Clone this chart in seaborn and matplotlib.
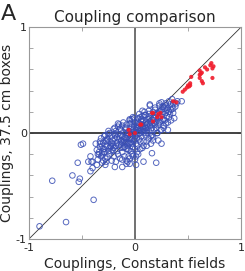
import numpy as np
import pandas as pd
import matplotlib
matplotlib.use("Agg")
import matplotlib.pyplot as plt
import seaborn as sns

# blue: all couplings (open circles)
blue_x = [
    -0.90, -0.65, -0.39, -0.78, -0.59, -0.52, -0.53, -0.54, -0.51, -0.49,
    -0.42, -0.44, -0.41, -0.40, -0.42, -0.40, -0.36, -0.30, -0.22, -0.20,
    -0.24, -0.16, -0.05, 0.14, 0.44, 0.39, 0.35, 0.36, 0.32, 0.26,
    0.14, 0.27, 0.31, 0.22, 0.25, 0.16, 0.08, 0.20, -0.05, 0.01,
    -0.12, -0.19, -0.08, -0.12, -0.34, -0.31, -0.28, -0.26, -0.33, -0.29,
    -0.02, 0.01, 0.03, -0.04, 0.05, -0.06, 0.02, -0.01, 0.07, -0.08,
    0.04, -0.03, 0.09, -0.10, 0.06, -0.05, 0.11, -0.12, 0.00, 0.08,
    -0.09, 0.12, -0.07, 0.03, 0.10, -0.13, 0.14, -0.02, 0.05, -0.11,
    0.13, -0.15, 0.16, -0.04, 0.01, -0.14, 0.15, -0.06, 0.07, -0.16,
    0.18, -0.18, 0.02, -0.01, 0.04, -0.03, 0.06, -0.05, 0.08, -0.07,
    0.10, -0.09, 0.12, -0.11, 0.00, 0.09, -0.08, 0.11, -0.10, 0.14,
    -0.12, 0.17, -0.13, 0.19, -0.17, 0.20, -0.19, 0.21, -0.20, 0.22,
    -0.21, 0.23, -0.22, 0.24, -0.23, 0.25, -0.24, 0.26, -0.25, 0.27,
    -0.26, 0.28, -0.27, 0.29, -0.28, 0.30, -0.29, 0.31, -0.30, 0.32,
    -0.31, 0.33, -0.32, 0.34, -0.33, 0.36, -0.35, 0.38, -0.37, 0.40,
    0.02, -0.03, 0.05, -0.06, 0.08, 0.04, -0.02, 0.07, -0.05, 0.10,
    -0.08, 0.13, 0.16, 0.18, 0.20, 0.17, -0.14, -0.16, -0.12, -0.18,
    -0.01, 0.03, -0.04, 0.06, -0.07, 0.09, -0.10, 0.12, -0.13, 0.15,
    0.00, 0.02, -0.02, 0.04, -0.04, 0.06, -0.06, 0.08, -0.08, 0.10,
    0.19, 0.23, 0.26, 0.29, 0.21, 0.24, -0.21, -0.24, -0.27, -0.19,
    -0.35, -0.34, -0.36, -0.32, -0.31, -0.33, -0.30, -0.29, -0.31, -0.28,
    -0.27, -0.29, -0.26, -0.25, -0.27, -0.24, -0.23, -0.25, -0.22, -0.21,
    -0.23, -0.20, -0.19, -0.21, -0.18, -0.17, -0.19, -0.16, -0.15, -0.17,
    -0.14, -0.13, -0.15, -0.12, -0.11, -0.13, -0.10, -0.09, -0.11, -0.08,
    -0.07, -0.09, -0.06, -0.05, -0.07, -0.04, -0.03, -0.05, -0.02, -0.01,
    -0.03, 0.00, 0.01, -0.01, 0.00, 0.02, 0.03, 0.01, 0.04, 0.05,
    0.03, 0.06, 0.07, 0.05, 0.08, 0.09, 0.07, 0.10, 0.11, 0.09,
    0.12, 0.13, 0.11, 0.14, 0.15, 0.13, 0.16, 0.17, 0.15, 0.18,
    0.19, 0.17, 0.20, 0.21, 0.19, 0.22, 0.23, 0.21, 0.24, 0.25,
    0.23, 0.26, 0.27, 0.25, 0.28, 0.29, 0.27, 0.30, 0.31, 0.29,
    0.33, 0.34, 0.32, 0.36, 0.37, 0.35,
]
blue_y = [
    -0.88, -0.84, -0.63, -0.45, -0.40, -0.43, -0.46, -0.28, -0.11, -0.10,
    -0.22, -0.27, -0.27, -0.27, -0.36, -0.33, -0.16, -0.15, -0.10, 0.04,
    0.00, 0.09, 0.13, 0.27, 0.30, 0.28, 0.25, 0.19, 0.15, 0.25,
    0.26, 0.25, 0.03, -0.07, -0.10, -0.19, -0.27, -0.28, -0.29, -0.30,
    -0.32, -0.32, -0.29, -0.25, -0.20, -0.12, -0.24, -0.05, -0.08, -0.18,
    0.01, 0.03, -0.01, -0.03, 0.04, 0.02, -0.05, -0.07, 0.06, -0.05,
    0.09, 0.06, 0.02, -0.08, -0.03, -0.10, 0.08, -0.03, 0.10, 0.12,
    0.04, 0.05, -0.12, 0.14, -0.02, -0.11, 0.11, -0.13, -0.08, 0.01,
    0.15, -0.06, 0.09, 0.09, -0.10, -0.14, 0.03, -0.16, 0.16, -0.01,
    0.14, -0.12, 0.06, 0.04, 0.02, -0.01, 0.08, -0.05, 0.04, -0.02,
    0.10, -0.09, 0.13, -0.06, -0.03, 0.07, 0.00, 0.02, -0.13, 0.07,
    -0.09, 0.12, -0.02, 0.17, -0.09, 0.11, -0.05, 0.19, -0.14, 0.14,
    -0.10, 0.20, -0.03, 0.16, -0.13, 0.22, -0.08, 0.18, -0.17, 0.13,
    -0.06, 0.23, -0.12, 0.19, -0.02, 0.16, -0.15, 0.24, -0.09, 0.20,
    -0.19, 0.27, -0.05, 0.22, -0.13, 0.28, -0.20, 0.25, -0.10, 0.30,
    -0.18, -0.20, -0.15, -0.22, -0.12, 0.18, 0.15, 0.21, 0.12, 0.17,
    0.08, -0.05, -0.02, 0.03, 0.05, -0.07, 0.04, 0.06, 0.07, 0.02,
    0.00, 0.05, -0.06, 0.11, -0.09, 0.00, -0.04, 0.09, -0.07, 0.10,
    -0.06, 0.08, 0.03, 0.00, -0.09, 0.13, -0.01, 0.02, -0.15, 0.05,
    0.08, 0.10, 0.12, 0.09, 0.00, 0.03, -0.16, -0.14, -0.07, -0.02,
    -0.25, -0.18, -0.30, -0.22, -0.28, -0.10, -0.26, -0.03, -0.21, -0.30,
    -0.08, -0.18, -0.23, -0.01, -0.27, -0.20, -0.12, 0.02, -0.26, -0.07,
    -0.17, -0.22, -0.01, -0.12, -0.27, -0.17, 0.05, -0.20, -0.11, -0.04,
    -0.24, -0.08, 0.08, -0.18, -0.14, 0.03, -0.22, -0.04, 0.10, -0.26,
    -0.15, 0.05, -0.09, 0.09, -0.27, -0.17, 0.13, -0.24, -0.22, 0.07,
    -0.10, -0.15, 0.05, 0.14, -0.25, -0.12, 0.10, -0.22, -0.06, 0.15,
    -0.20, 0.12, -0.14, 0.00, -0.08, 0.17, 0.02, 0.05, -0.12, 0.20,
    0.00, 0.18, -0.08, 0.14, -0.03, 0.21, 0.05, 0.20, -0.10, 0.09,
    0.22, -0.04, 0.15, 0.00, 0.24, 0.08, 0.26, 0.18, 0.11, 0.03,
    0.28, 0.20, 0.07, 0.29, 0.12, 0.26, 0.05, 0.22, 0.10, 0.28,
    0.18, 0.12, 0.30, 0.23, 0.14, 0.32,
]

# red: highlighted couplings (filled dots)
red_x = [
    0.53, 0.61, 0.62, 0.61, 0.63, 0.63, 0.64, 0.61, 0.66, 0.68,
    0.71, 0.72, 0.74, 0.73, 0.73, 0.52, 0.51, 0.49, 0.47, 0.45,
    0.52, 0.36, 0.39, 0.24, 0.17, 0.05, 0.17, 0.16, 0.21, 0.25,
    0.06, -0.06, -0.05, 0.00, 0.22, 0.50,
]
red_y = [
    0.53, 0.59, 0.56, 0.55, 0.57, 0.49, 0.47, 0.52, 0.62, 0.60,
    0.64, 0.66, 0.63, 0.61, 0.52, 0.47, 0.44, 0.43, 0.41, 0.39,
    0.45, 0.30, 0.29, 0.19, 0.19, 0.08, 0.11, 0.19, 0.15, 0.15,
    0.08, 0.03, -0.01, 0.00, 0.18, 0.45,
]

x_ticks = [-1, -0.5, 0, 0.5, 1]
x_labels = ["-1", "", "0", "", "1"]
y_ticks = [-1, -0.8, -0.6, -0.4, -0.2, 0, 0.2, 0.4, 0.6, 0.8, 1]
y_labels = ["-1", "", "", "", "", "0", "", "", "", "", "1"]

blue = pd.DataFrame({"x": blue_x, "y": blue_y})
red = pd.DataFrame({"x": red_x, "y": red_y})

sns.set_theme(style="white")
plt.rcParams["font.family"] = ["DejaVu Sans"]

fig = plt.figure(figsize=(2.45, 2.71), dpi=100)
ax = fig.add_axes([0.118, 0.118, 0.866, 0.782])

ax.plot([-1, 1], [-1, 1], color="#333333", lw=0.6, zorder=1)
ax.axhline(0, color="#333333", lw=1.3, zorder=1)
ax.axvline(0, color="#666666", lw=1.3, zorder=1)

sns.scatterplot(data=blue, x="x", y="y", ax=ax, marker="o", s=16,
                facecolors="none", edgecolor="#3a4fb5", linewidth=0.7,
                alpha=0.85, zorder=2)
sns.scatterplot(data=red, x="x", y="y", ax=ax, marker="o", s=9,
                color="#f01c2c", edgecolor="none", alpha=0.9, zorder=3)

ax.set_xlim(-1, 1)
ax.set_ylim(-1, 1)
ax.set_xticks(x_ticks)
ax.set_xticklabels(x_labels)
ax.set_yticks(y_ticks)
ax.set_yticklabels(y_labels)
ax.tick_params(direction="in", length=3, width=0.6, color="#999999",
               labelsize=8, top=True, right=True, bottom=True, left=True)
ax.tick_params(axis="x", pad=3)
ax.tick_params(axis="y", pad=1.5)
for sp in ax.spines.values():
    sp.set_color("#999999")
    sp.set_linewidth(0.8)

ax.set_xlabel("Couplings, Constant fields", fontsize=10, labelpad=3)
ax.set_ylabel("Couplings, 37.5 cm boxes", fontsize=10, labelpad=1)
ax.set_title("Coupling comparison", fontsize=11, pad=4)
fig.text(0.005, 0.985, "A", fontsize=16, va="top", ha="left")

fig.savefig("out.png", dpi=100)
